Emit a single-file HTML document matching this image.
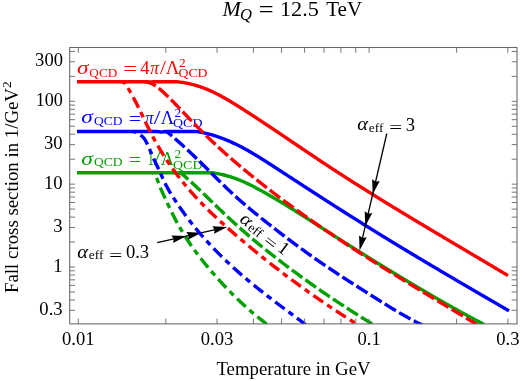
<!DOCTYPE html><html><head><meta charset="utf-8"><title>plot</title><style>html,body{margin:0;padding:0;background:#fff;}svg{display:block;will-change:transform}text{font-family:"Liberation Serif",serif;}</style></head><body>
<svg width="523" height="381" viewBox="0 0 523 381">
<rect width="523" height="381" fill="#fff"/>
<defs><clipPath id="c"><rect x="69.70" y="47.50" width="447.30" height="276.40"/></clipPath></defs>
<g clip-path="url(#c)">
<path d="M77.00 172.70 L78.00 172.70 L79.00 172.70 L80.00 172.70 L81.00 172.70 L82.00 172.70 L83.00 172.70 L84.00 172.70 L85.00 172.70 L86.00 172.70 L87.00 172.70 L88.00 172.70 L89.00 172.70 L90.00 172.70 L91.00 172.70 L92.00 172.70 L93.00 172.70 L94.00 172.70 L95.00 172.70 L96.00 172.70 L97.00 172.70 L98.00 172.70 L99.00 172.70 L100.00 172.70 L101.00 172.70 L102.00 172.70 L103.00 172.70 L104.00 172.70 L105.00 172.70 L106.00 172.70 L107.00 172.70 L108.00 172.70 L109.00 172.70 L110.00 172.70 L111.00 172.70 L112.00 172.70 L113.00 172.70 L114.00 172.70 L115.00 172.70 L116.00 172.70 L117.00 172.70 L118.00 172.70 L119.00 172.70 L120.00 172.70 L121.00 172.70 L122.00 172.70 L123.00 172.70 L124.00 172.70 L125.00 172.70 L126.00 172.70 L127.00 172.70 L128.00 172.70 L129.00 172.70 L130.00 172.70 L131.00 172.70 L132.00 172.70 L133.00 172.70 L134.00 172.70 L135.00 172.70 L136.00 172.70 L137.00 172.70 L138.00 172.70 L139.00 172.70 L140.00 172.70 L141.00 172.70 L142.00 172.70 L143.00 172.70 L144.00 172.70 L145.00 172.70 L146.00 172.70 L147.00 172.70 L148.00 172.70 L149.00 172.70 L150.00 172.70 L151.00 172.70 L152.00 172.70 L153.00 172.70 L154.00 172.70 L155.00 172.70 L156.00 172.70 L157.00 172.70 L158.00 172.70 L159.00 172.70 L160.00 172.70 L161.00 172.70 L162.00 172.70 L163.00 172.70 L164.00 172.70 L165.00 172.70 L166.00 172.70 L167.00 172.70 L168.00 172.70 L169.00 172.70 L170.00 172.70 L171.00 172.70 L172.00 172.72 L173.00 172.78 L174.00 172.88 L175.00 172.99 L176.00 173.03 L177.00 173.00 L178.00 172.91 L179.00 172.82 L180.00 172.76 L181.00 172.72 L182.00 172.71 L183.00 172.70 L184.00 172.70 L185.00 172.70 L186.00 172.70 L187.00 172.70 L188.00 172.70 L189.00 172.70 L190.00 172.70 L191.00 172.70 L192.00 172.70 L193.00 172.70 L194.00 172.70 L195.00 172.70 L196.00 172.70 L197.00 172.70 L198.00 172.70 L199.00 172.70 L200.00 172.70 L201.00 172.70 L202.00 172.70 L203.00 172.70 L204.00 172.70 L205.00 172.70 L206.00 172.70 L207.00 172.70 L208.00 172.70 L209.00 172.70 L210.00 172.71 L211.00 172.74 L212.00 172.80 L213.00 172.90 L214.00 173.03 L215.00 173.17 L216.00 173.33 L217.00 173.50 L218.00 173.69 L219.00 173.88 L220.00 174.08 L221.00 174.29 L222.00 174.51 L223.00 174.74 L224.00 174.98 L225.00 175.23 L226.00 175.49 L227.00 175.77 L228.00 176.05 L229.00 176.35 L230.00 176.65 L231.00 176.97 L232.00 177.30 L233.00 177.63 L234.00 177.98 L235.00 178.34 L236.00 178.71 L237.00 179.09 L238.00 179.48 L239.00 179.88 L240.00 180.29 L241.00 180.70 L242.00 181.13 L243.00 181.56 L244.00 182.01 L245.00 182.46 L246.00 182.92 L247.00 183.38 L248.00 183.85 L249.00 184.33 L250.00 184.82 L251.00 185.32 L252.00 185.82 L253.00 186.32 L254.00 186.84 L255.00 187.35 L256.00 187.88 L257.00 188.41 L258.00 188.94 L259.00 189.48 L260.00 190.02 L261.00 190.57 L262.00 191.13 L263.00 191.68 L264.00 192.24 L265.00 192.81 L266.00 193.37 L267.00 193.94 L268.00 194.52 L269.00 195.09 L270.00 195.67 L271.00 196.25 L272.00 196.83 L273.00 197.42 L274.00 198.01 L275.00 198.60 L276.00 199.19 L277.00 199.79 L278.00 200.38 L279.00 200.98 L280.00 201.58 L281.00 202.19 L282.00 202.79 L283.00 203.40 L284.00 204.01 L285.00 204.62 L286.00 205.23 L287.00 205.84 L288.00 206.46 L289.00 207.08 L290.00 207.69 L291.00 208.31 L292.00 208.94 L293.00 209.56 L294.00 210.18 L295.00 210.81 L296.00 211.44 L297.00 212.07 L298.00 212.70 L299.00 213.33 L300.00 213.96 L301.00 214.59 L302.00 215.22 L303.00 215.86 L304.00 216.49 L305.00 217.13 L306.00 217.77 L307.00 218.40 L308.00 219.04 L309.00 219.68 L310.00 220.32 L311.00 220.96 L312.00 221.60 L313.00 222.24 L314.00 222.88 L315.00 223.53 L316.00 224.17 L317.00 224.81 L318.00 225.45 L319.00 226.10 L320.00 226.74 L321.00 227.38 L322.00 228.02 L323.00 228.67 L324.00 229.31 L325.00 229.95 L326.00 230.59 L327.00 231.24 L328.00 231.88 L329.00 232.52 L330.00 233.16 L331.00 233.80 L332.00 234.44 L333.00 235.08 L334.00 235.72 L335.00 236.36 L336.00 237.00 L337.00 237.63 L338.00 238.27 L339.00 238.91 L340.00 239.54 L341.00 240.18 L342.00 240.81 L343.00 241.45 L344.00 242.08 L345.00 242.72 L346.00 243.35 L347.00 243.98 L348.00 244.61 L349.00 245.25 L350.00 245.88 L351.00 246.51 L352.00 247.14 L353.00 247.77 L354.00 248.40 L355.00 249.02 L356.00 249.65 L357.00 250.28 L358.00 250.91 L359.00 251.53 L360.00 252.16 L361.00 252.78 L362.00 253.41 L363.00 254.03 L364.00 254.66 L365.00 255.28 L366.00 255.90 L367.00 256.52 L368.00 257.15 L369.00 257.77 L370.00 258.39 L371.00 259.01 L372.00 259.63 L373.00 260.24 L374.00 260.86 L375.00 261.48 L376.00 262.10 L377.00 262.71 L378.00 263.33 L379.00 263.94 L380.00 264.56 L381.00 265.17 L382.00 265.79 L383.00 266.40 L384.00 267.01 L385.00 267.62 L386.00 268.23 L387.00 268.84 L388.00 269.45 L389.00 270.06 L390.00 270.67 L391.00 271.28 L392.00 271.89 L393.00 272.50 L394.00 273.10 L395.00 273.71 L396.00 274.31 L397.00 274.92 L398.00 275.52 L399.00 276.12 L400.00 276.73 L401.00 277.33 L402.00 277.93 L403.00 278.53 L404.00 279.13 L405.00 279.73 L406.00 280.33 L407.00 280.93 L408.00 281.53 L409.00 282.12 L410.00 282.72 L411.00 283.31 L412.00 283.91 L413.00 284.50 L414.00 285.10 L415.00 285.69 L416.00 286.28 L417.00 286.87 L418.00 287.47 L419.00 288.06 L420.00 288.64 L421.00 289.23 L422.00 289.82 L423.00 290.41 L424.00 290.99 L425.00 291.58 L426.00 292.16 L427.00 292.75 L428.00 293.33 L429.00 293.91 L430.00 294.50 L431.00 295.08 L432.00 295.66 L433.00 296.24 L434.00 296.81 L435.00 297.39 L436.00 297.97 L437.00 298.54 L438.00 299.12 L439.00 299.69 L440.00 300.26 L441.00 300.84 L442.00 301.41 L443.00 301.98 L444.00 302.55 L445.00 303.11 L446.00 303.68 L447.00 304.25 L448.00 304.81 L449.00 305.38 L450.00 305.94 L451.00 306.50 L452.00 307.06 L453.00 307.62 L454.00 308.18 L455.00 308.74 L456.00 309.30 L457.00 309.85 L458.00 310.41 L459.00 310.96 L460.00 311.51 L461.00 312.07 L462.00 312.62 L463.00 313.17 L464.00 313.71 L465.00 314.26 L466.00 314.81 L467.00 315.35 L468.00 315.90 L469.00 316.44 L470.00 316.98 L471.00 317.52 L472.00 318.06 L473.00 318.60 L474.00 319.13 L475.00 319.67 L476.00 320.20 L477.00 320.74 L478.00 321.27 L479.00 321.80 L480.00 322.33 L481.00 322.86 L482.00 323.38 L483.00 323.91 L484.00 324.43" fill="none" stroke="#00a000" stroke-width="3.40" stroke-linejoin="round"/>
<path d="M178.00 172.72 L179.00 172.79 L180.00 172.98 L181.00 173.37 L182.00 173.99 L183.00 174.78 L184.00 175.64 L185.00 176.53 L186.00 177.43 L187.00 178.33 L188.00 179.23 L189.00 180.13 L190.00 181.04 L191.00 181.94 L192.00 182.86 L193.00 183.77 L194.00 184.69 L195.00 185.61 L196.00 186.54 L197.00 187.47 L198.00 188.40 L199.00 189.35 L200.00 190.29 L201.00 191.24 L202.00 192.20 L203.00 193.16 L204.00 194.12 L205.00 195.09 L206.00 196.06 L207.00 197.04 L208.00 198.01 L209.00 198.98 L210.00 199.96 L211.00 200.93 L212.00 201.91 L213.00 202.88 L214.00 203.85 L215.00 204.82 L216.00 205.79 L217.00 206.75 L218.00 207.71 L219.00 208.67 L220.00 209.63 L221.00 210.59 L222.00 211.54 L223.00 212.49 L224.00 213.44 L225.00 214.38 L226.00 215.32 L227.00 216.26 L228.00 217.20 L229.00 218.13 L230.00 219.06 L231.00 219.98 L232.00 220.90 L233.00 221.82 L234.00 222.74 L235.00 223.65 L236.00 224.55 L237.00 225.45 L238.00 226.35 L239.00 227.24 L240.00 228.13 L241.00 229.02 L242.00 229.90 L243.00 230.78 L244.00 231.65 L245.00 232.52 L246.00 233.39 L247.00 234.25 L248.00 235.11 L249.00 235.96 L250.00 236.81 L251.00 237.66 L252.00 238.51 L253.00 239.35 L254.00 240.19 L255.00 241.02 L256.00 241.85 L257.00 242.68 L258.00 243.50 L259.00 244.33 L260.00 245.14 L261.00 245.96 L262.00 246.77 L263.00 247.58 L264.00 248.39 L265.00 249.19 L266.00 250.00 L267.00 250.79 L268.00 251.59 L269.00 252.38 L270.00 253.17 L271.00 253.96 L272.00 254.75 L273.00 255.53 L274.00 256.31 L275.00 257.09 L276.00 257.87 L277.00 258.64 L278.00 259.42 L279.00 260.19 L280.00 260.96 L281.00 261.72 L282.00 262.49 L283.00 263.25 L284.00 264.01 L285.00 264.77 L286.00 265.52 L287.00 266.28 L288.00 267.03 L289.00 267.78 L290.00 268.53 L291.00 269.28 L292.00 270.02 L293.00 270.76 L294.00 271.50 L295.00 272.24 L296.00 272.98 L297.00 273.71 L298.00 274.45 L299.00 275.18 L300.00 275.91 L301.00 276.63 L302.00 277.36 L303.00 278.08 L304.00 278.80 L305.00 279.52 L306.00 280.24 L307.00 280.96 L308.00 281.67 L309.00 282.38 L310.00 283.09 L311.00 283.80 L312.00 284.51 L313.00 285.21 L314.00 285.91 L315.00 286.62 L316.00 287.32 L317.00 288.01 L318.00 288.71 L319.00 289.40 L320.00 290.10 L321.00 290.79 L322.00 291.48 L323.00 292.16 L324.00 292.85 L325.00 293.53 L326.00 294.21 L327.00 294.89 L328.00 295.57 L329.00 296.25 L330.00 296.93 L331.00 297.60 L332.00 298.27 L333.00 298.94 L334.00 299.61 L335.00 300.28 L336.00 300.94 L337.00 301.61 L338.00 302.27 L339.00 302.93 L340.00 303.59 L341.00 304.24 L342.00 304.90 L343.00 305.55 L344.00 306.21 L345.00 306.86 L346.00 307.51 L347.00 308.15 L348.00 308.80 L349.00 309.44 L350.00 310.09 L351.00 310.73 L352.00 311.37 L353.00 312.01 L354.00 312.65 L355.00 313.28 L356.00 313.91 L357.00 314.55 L358.00 315.18 L359.00 315.81 L360.00 316.44 L361.00 317.06 L362.00 317.69 L363.00 318.31 L364.00 318.93 L365.00 319.56 L366.00 320.18 L367.00 320.79 L368.00 321.41 L369.00 322.03 L370.00 322.64 L371.00 323.25 L372.00 323.86 L373.00 324.47 L374.00 325.08" fill="none" stroke="#00a000" stroke-width="3.40" stroke-linejoin="round" stroke-dasharray="13.0 3.75" stroke-dashoffset="0.49"/>
<path d="M152.00 172.74 L153.00 172.91 L154.00 173.43 L155.00 174.56 L156.00 176.44 L157.00 178.87 L158.00 181.57 L159.00 184.27 L160.00 186.85 L161.00 189.27 L162.00 191.55 L163.00 193.74 L164.00 195.87 L165.00 198.00 L166.00 200.15 L167.00 202.31 L168.00 204.48 L169.00 206.63 L170.00 208.75 L171.00 210.83 L172.00 212.87 L173.00 214.86 L174.00 216.82 L175.00 218.74 L176.00 220.63 L177.00 222.48 L178.00 224.29 L179.00 226.07 L180.00 227.82 L181.00 229.54 L182.00 231.22 L183.00 232.88 L184.00 234.51 L185.00 236.12 L186.00 237.70 L187.00 239.25 L188.00 240.77 L189.00 242.28 L190.00 243.76 L191.00 245.22 L192.00 246.65 L193.00 248.07 L194.00 249.46 L195.00 250.84 L196.00 252.20 L197.00 253.54 L198.00 254.86 L199.00 256.17 L200.00 257.46 L201.00 258.74 L202.00 260.00 L203.00 261.25 L204.00 262.49 L205.00 263.72 L206.00 264.94 L207.00 266.15 L208.00 267.34 L209.00 268.54 L210.00 269.72 L211.00 270.89 L212.00 272.06 L213.00 273.21 L214.00 274.36 L215.00 275.50 L216.00 276.64 L217.00 277.76 L218.00 278.88 L219.00 279.98 L220.00 281.09 L221.00 282.18 L222.00 283.26 L223.00 284.34 L224.00 285.41 L225.00 286.47 L226.00 287.52 L227.00 288.57 L228.00 289.60 L229.00 290.63 L230.00 291.66 L231.00 292.67 L232.00 293.68 L233.00 294.68 L234.00 295.67 L235.00 296.65 L236.00 297.63 L237.00 298.60 L238.00 299.56 L239.00 300.51 L240.00 301.46 L241.00 302.39 L242.00 303.32 L243.00 304.25 L244.00 305.16 L245.00 306.07 L246.00 306.98 L247.00 307.87 L248.00 308.76 L249.00 309.64 L250.00 310.51 L251.00 311.37 L252.00 312.23 L253.00 313.08 L254.00 313.93 L255.00 314.76 L256.00 315.59 L257.00 316.42 L258.00 317.23 L259.00 318.04 L260.00 318.84 L261.00 319.64 L262.00 320.42 L263.00 321.20 L264.00 321.98 L265.00 322.75 L266.00 323.51 L267.00 324.27" fill="none" stroke="#00a000" stroke-width="3.40" stroke-linejoin="round" stroke-dasharray="5.6 4.9 11.8 4.9" stroke-dashoffset="19.86"/>
<text transform="translate(81.20,164.90) scale(1.2596,1.0000)" font-size="18.60" fill="#00a000" font-style="italic">σ</text><text transform="translate(94.05,166.20) scale(1.0147,1.0000)" font-size="13.30" fill="#00a000">QCD</text><text transform="translate(128.70,166.20) scale(1.1900,1.0000)" font-size="18.60" fill="#00a000">=</text><text transform="translate(147.73,165.40) scale(0.6567,1.0000)" font-size="18.60" fill="#00a000">1</text><text transform="translate(153.70,165.40) scale(1.2965,1.0000)" font-size="18.60" fill="#00a000">/</text><text transform="translate(160.82,165.40) scale(0.9913,1.0000)" font-size="18.60" fill="#00a000">Λ</text><text transform="translate(174.42,158.40) scale(1.0000,1.0000)" font-size="13.30" fill="#00a000">2</text><text transform="translate(173.03,168.70) scale(1.0517,1.0000)" font-size="13.30" fill="#00a000">QCD</text>
<path d="M157.15 242.60L224.37 227.56" stroke="#000" stroke-width="1.3" fill="none"/><path d="M186.40 236.05L173.10 243.03L173.71 238.89L171.40 235.41Z" fill="#000"/><path d="M201.30 232.72L188.00 239.69L188.61 235.56L186.30 232.08Z" fill="#000"/><path d="M227.30 226.90L214.00 233.87L214.61 229.74L212.30 226.26Z" fill="#000"/>
<path d="M77.00 131.50 L78.00 131.50 L79.00 131.50 L80.00 131.50 L81.00 131.50 L82.00 131.50 L83.00 131.50 L84.00 131.50 L85.00 131.50 L86.00 131.50 L87.00 131.50 L88.00 131.50 L89.00 131.50 L90.00 131.50 L91.00 131.50 L92.00 131.50 L93.00 131.50 L94.00 131.50 L95.00 131.50 L96.00 131.50 L97.00 131.50 L98.00 131.50 L99.00 131.50 L100.00 131.50 L101.00 131.50 L102.00 131.50 L103.00 131.50 L104.00 131.50 L105.00 131.50 L106.00 131.50 L107.00 131.50 L108.00 131.50 L109.00 131.50 L110.00 131.50 L111.00 131.50 L112.00 131.50 L113.00 131.50 L114.00 131.50 L115.00 131.50 L116.00 131.50 L117.00 131.50 L118.00 131.50 L119.00 131.50 L120.00 131.50 L121.00 131.50 L122.00 131.50 L123.00 131.50 L124.00 131.50 L125.00 131.50 L126.00 131.50 L127.00 131.50 L128.00 131.50 L129.00 131.50 L130.00 131.50 L131.00 131.50 L132.00 131.50 L133.00 131.50 L134.00 131.50 L135.00 131.50 L136.00 131.50 L137.00 131.50 L138.00 131.50 L139.00 131.50 L140.00 131.50 L141.00 131.50 L142.00 131.50 L143.00 131.50 L144.00 131.50 L145.00 131.50 L146.00 131.50 L147.00 131.50 L148.00 131.50 L149.00 131.50 L150.00 131.50 L151.00 131.50 L152.00 131.50 L153.00 131.50 L154.00 131.50 L155.00 131.50 L156.00 131.51 L157.00 131.54 L158.00 131.63 L159.00 131.78 L160.00 131.94 L161.00 132.01 L162.00 131.95 L163.00 131.81 L164.00 131.68 L165.00 131.58 L166.00 131.53 L167.00 131.51 L168.00 131.50 L169.00 131.50 L170.00 131.50 L171.00 131.50 L172.00 131.50 L173.00 131.50 L174.00 131.50 L175.00 131.50 L176.00 131.50 L177.00 131.50 L178.00 131.50 L179.00 131.50 L180.00 131.50 L181.00 131.50 L182.00 131.50 L183.00 131.50 L184.00 131.50 L185.00 131.50 L186.00 131.50 L187.00 131.50 L188.00 131.50 L189.00 131.50 L190.00 131.50 L191.00 131.50 L192.00 131.50 L193.00 131.50 L194.00 131.50 L195.00 131.52 L196.00 131.56 L197.00 131.63 L198.00 131.76 L199.00 131.91 L200.00 132.09 L201.00 132.28 L202.00 132.47 L203.00 132.68 L204.00 132.90 L205.00 133.12 L206.00 133.36 L207.00 133.60 L208.00 133.85 L209.00 134.11 L210.00 134.38 L211.00 134.66 L212.00 134.95 L213.00 135.24 L214.00 135.55 L215.00 135.86 L216.00 136.18 L217.00 136.51 L218.00 136.85 L219.00 137.19 L220.00 137.54 L221.00 137.91 L222.00 138.28 L223.00 138.65 L224.00 139.04 L225.00 139.43 L226.00 139.84 L227.00 140.25 L228.00 140.67 L229.00 141.09 L230.00 141.52 L231.00 141.97 L232.00 142.42 L233.00 142.87 L234.00 143.34 L235.00 143.81 L236.00 144.29 L237.00 144.78 L238.00 145.27 L239.00 145.77 L240.00 146.28 L241.00 146.80 L242.00 147.32 L243.00 147.85 L244.00 148.39 L245.00 148.93 L246.00 149.48 L247.00 150.04 L248.00 150.60 L249.00 151.17 L250.00 151.75 L251.00 152.33 L252.00 152.91 L253.00 153.50 L254.00 154.10 L255.00 154.69 L256.00 155.30 L257.00 155.91 L258.00 156.52 L259.00 157.13 L260.00 157.75 L261.00 158.38 L262.00 159.00 L263.00 159.63 L264.00 160.26 L265.00 160.90 L266.00 161.54 L267.00 162.18 L268.00 162.82 L269.00 163.46 L270.00 164.11 L271.00 164.75 L272.00 165.40 L273.00 166.05 L274.00 166.70 L275.00 167.35 L276.00 168.00 L277.00 168.65 L278.00 169.31 L279.00 169.96 L280.00 170.61 L281.00 171.26 L282.00 171.91 L283.00 172.56 L284.00 173.21 L285.00 173.87 L286.00 174.52 L287.00 175.17 L288.00 175.82 L289.00 176.47 L290.00 177.12 L291.00 177.77 L292.00 178.42 L293.00 179.08 L294.00 179.73 L295.00 180.38 L296.00 181.03 L297.00 181.68 L298.00 182.33 L299.00 182.98 L300.00 183.63 L301.00 184.28 L302.00 184.93 L303.00 185.57 L304.00 186.22 L305.00 186.87 L306.00 187.52 L307.00 188.17 L308.00 188.82 L309.00 189.47 L310.00 190.11 L311.00 190.76 L312.00 191.41 L313.00 192.05 L314.00 192.70 L315.00 193.35 L316.00 193.99 L317.00 194.64 L318.00 195.29 L319.00 195.93 L320.00 196.58 L321.00 197.22 L322.00 197.87 L323.00 198.51 L324.00 199.15 L325.00 199.80 L326.00 200.44 L327.00 201.08 L328.00 201.73 L329.00 202.37 L330.00 203.01 L331.00 203.65 L332.00 204.29 L333.00 204.93 L334.00 205.57 L335.00 206.21 L336.00 206.85 L337.00 207.49 L338.00 208.13 L339.00 208.77 L340.00 209.40 L341.00 210.04 L342.00 210.68 L343.00 211.31 L344.00 211.95 L345.00 212.59 L346.00 213.22 L347.00 213.86 L348.00 214.49 L349.00 215.12 L350.00 215.76 L351.00 216.39 L352.00 217.02 L353.00 217.65 L354.00 218.28 L355.00 218.91 L356.00 219.54 L357.00 220.17 L358.00 220.80 L359.00 221.43 L360.00 222.06 L361.00 222.68 L362.00 223.31 L363.00 223.94 L364.00 224.56 L365.00 225.19 L366.00 225.81 L367.00 226.43 L368.00 227.06 L369.00 227.68 L370.00 228.30 L371.00 228.92 L372.00 229.54 L373.00 230.16 L374.00 230.78 L375.00 231.40 L376.00 232.02 L377.00 232.64 L378.00 233.25 L379.00 233.87 L380.00 234.49 L381.00 235.10 L382.00 235.72 L383.00 236.33 L384.00 236.94 L385.00 237.56 L386.00 238.17 L387.00 238.78 L388.00 239.39 L389.00 240.00 L390.00 240.62 L391.00 241.23 L392.00 241.84 L393.00 242.44 L394.00 243.05 L395.00 243.66 L396.00 244.27 L397.00 244.88 L398.00 245.48 L399.00 246.09 L400.00 246.69 L401.00 247.30 L402.00 247.91 L403.00 248.51 L404.00 249.11 L405.00 249.72 L406.00 250.32 L407.00 250.92 L408.00 251.52 L409.00 252.13 L410.00 252.73 L411.00 253.33 L412.00 253.93 L413.00 254.53 L414.00 255.13 L415.00 255.73 L416.00 256.33 L417.00 256.93 L418.00 257.52 L419.00 258.12 L420.00 258.72 L421.00 259.32 L422.00 259.91 L423.00 260.51 L424.00 261.10 L425.00 261.70 L426.00 262.30 L427.00 262.89 L428.00 263.48 L429.00 264.08 L430.00 264.67 L431.00 265.27 L432.00 265.86 L433.00 266.45 L434.00 267.04 L435.00 267.64 L436.00 268.23 L437.00 268.82 L438.00 269.41 L439.00 270.00 L440.00 270.59 L441.00 271.18 L442.00 271.77 L443.00 272.36 L444.00 272.95 L445.00 273.54 L446.00 274.13 L447.00 274.72 L448.00 275.31 L449.00 275.89 L450.00 276.48 L451.00 277.07 L452.00 277.66 L453.00 278.24 L454.00 278.83 L455.00 279.42 L456.00 280.00 L457.00 280.59 L458.00 281.17 L459.00 281.76 L460.00 282.35 L461.00 282.93 L462.00 283.52 L463.00 284.10 L464.00 284.68 L465.00 285.27 L466.00 285.85 L467.00 286.44 L468.00 287.02 L469.00 287.60 L470.00 288.19 L471.00 288.77 L472.00 289.35 L473.00 289.94 L474.00 290.52 L475.00 291.10 L476.00 291.69 L477.00 292.27 L478.00 292.85 L479.00 293.43 L480.00 294.01 L481.00 294.60 L482.00 295.18 L483.00 295.76 L484.00 296.34 L485.00 296.92 L486.00 297.50 L487.00 298.08 L488.00 298.66 L489.00 299.25 L490.00 299.83 L491.00 300.41 L492.00 300.99 L493.00 301.57 L494.00 302.15 L495.00 302.73 L496.00 303.31 L497.00 303.89 L498.00 304.47 L499.00 305.05 L500.00 305.63 L501.00 306.21 L502.00 306.79 L503.00 307.37 L504.00 307.95 L505.00 308.53 L506.00 309.11 L507.00 309.69 L508.00 310.27 L509.00 310.85" fill="none" stroke="#0000ff" stroke-width="3.40" stroke-linejoin="round"/>
<path d="M164.00 131.51 L165.00 131.56 L166.00 131.72 L167.00 132.07 L168.00 132.65 L169.00 133.40 L170.00 134.24 L171.00 135.11 L172.00 135.98 L173.00 136.86 L174.00 137.74 L175.00 138.61 L176.00 139.49 L177.00 140.37 L178.00 141.25 L179.00 142.14 L180.00 143.04 L181.00 143.94 L182.00 144.84 L183.00 145.75 L184.00 146.66 L185.00 147.58 L186.00 148.50 L187.00 149.43 L188.00 150.36 L189.00 151.29 L190.00 152.23 L191.00 153.18 L192.00 154.12 L193.00 155.07 L194.00 156.03 L195.00 156.99 L196.00 157.95 L197.00 158.91 L198.00 159.88 L199.00 160.85 L200.00 161.83 L201.00 162.81 L202.00 163.79 L203.00 164.77 L204.00 165.76 L205.00 166.75 L206.00 167.74 L207.00 168.73 L208.00 169.73 L209.00 170.72 L210.00 171.72 L211.00 172.72 L212.00 173.71 L213.00 174.71 L214.00 175.71 L215.00 176.70 L216.00 177.70 L217.00 178.69 L218.00 179.68 L219.00 180.67 L220.00 181.66 L221.00 182.64 L222.00 183.62 L223.00 184.60 L224.00 185.57 L225.00 186.54 L226.00 187.51 L227.00 188.47 L228.00 189.42 L229.00 190.37 L230.00 191.32 L231.00 192.26 L232.00 193.19 L233.00 194.11 L234.00 195.03 L235.00 195.94 L236.00 196.85 L237.00 197.75 L238.00 198.65 L239.00 199.53 L240.00 200.42 L241.00 201.29 L242.00 202.17 L243.00 203.03 L244.00 203.90 L245.00 204.75 L246.00 205.60 L247.00 206.45 L248.00 207.30 L249.00 208.14 L250.00 208.97 L251.00 209.80 L252.00 210.63 L253.00 211.46 L254.00 212.28 L255.00 213.09 L256.00 213.91 L257.00 214.72 L258.00 215.53 L259.00 216.34 L260.00 217.14 L261.00 217.94 L262.00 218.74 L263.00 219.54 L264.00 220.33 L265.00 221.13 L266.00 221.92 L267.00 222.71 L268.00 223.50 L269.00 224.28 L270.00 225.06 L271.00 225.85 L272.00 226.63 L273.00 227.40 L274.00 228.18 L275.00 228.96 L276.00 229.73 L277.00 230.50 L278.00 231.27 L279.00 232.04 L280.00 232.80 L281.00 233.57 L282.00 234.33 L283.00 235.09 L284.00 235.85 L285.00 236.61 L286.00 237.36 L287.00 238.12 L288.00 238.87 L289.00 239.63 L290.00 240.38 L291.00 241.12 L292.00 241.87 L293.00 242.62 L294.00 243.36 L295.00 244.10 L296.00 244.84 L297.00 245.58 L298.00 246.32 L299.00 247.06 L300.00 247.79 L301.00 248.52 L302.00 249.25 L303.00 249.98 L304.00 250.70 L305.00 251.43 L306.00 252.15 L307.00 252.87 L308.00 253.58 L309.00 254.30 L310.00 255.01 L311.00 255.72 L312.00 256.43 L313.00 257.13 L314.00 257.84 L315.00 258.54 L316.00 259.24 L317.00 259.93 L318.00 260.63 L319.00 261.32 L320.00 262.01 L321.00 262.70 L322.00 263.38 L323.00 264.06 L324.00 264.74 L325.00 265.42 L326.00 266.10 L327.00 266.77 L328.00 267.44 L329.00 268.11 L330.00 268.78 L331.00 269.45 L332.00 270.12 L333.00 270.78 L334.00 271.44 L335.00 272.10 L336.00 272.76 L337.00 273.42 L338.00 274.07 L339.00 274.73 L340.00 275.38 L341.00 276.03 L342.00 276.68 L343.00 277.33 L344.00 277.98 L345.00 278.63 L346.00 279.28 L347.00 279.92 L348.00 280.57 L349.00 281.21 L350.00 281.85 L351.00 282.49 L352.00 283.13 L353.00 283.78 L354.00 284.42 L355.00 285.05 L356.00 285.69 L357.00 286.33 L358.00 286.97 L359.00 287.61 L360.00 288.24 L361.00 288.88 L362.00 289.52 L363.00 290.15 L364.00 290.79 L365.00 291.43 L366.00 292.06 L367.00 292.70 L368.00 293.33 L369.00 293.97 L370.00 294.60 L371.00 295.24 L372.00 295.88 L373.00 296.51 L374.00 297.14 L375.00 297.78 L376.00 298.41 L377.00 299.04 L378.00 299.67 L379.00 300.30 L380.00 300.93 L381.00 301.56 L382.00 302.19 L383.00 302.81 L384.00 303.43 L385.00 304.05 L386.00 304.67 L387.00 305.29 L388.00 305.91 L389.00 306.52 L390.00 307.13 L391.00 307.74 L392.00 308.35 L393.00 308.95 L394.00 309.55 L395.00 310.15 L396.00 310.74 L397.00 311.34 L398.00 311.93 L399.00 312.51 L400.00 313.10 L401.00 313.68 L402.00 314.25 L403.00 314.82 L404.00 315.39 L405.00 315.96 L406.00 316.52 L407.00 317.08 L408.00 317.63 L409.00 318.18 L410.00 318.72 L411.00 319.26 L412.00 319.80 L413.00 320.33 L414.00 320.85 L415.00 321.37 L416.00 321.89 L417.00 322.40 L418.00 322.91 L419.00 323.41 L420.00 323.90 L421.00 324.39 L422.00 324.88 L423.00 325.36" fill="none" stroke="#0000ff" stroke-width="3.40" stroke-linejoin="round" stroke-dasharray="13.0 3.75" stroke-dashoffset="3.42"/>
<path d="M133.00 131.53 L134.00 131.60 L135.00 131.80 L136.00 132.17 L137.00 132.72 L138.00 133.37 L139.00 134.07 L140.00 134.78 L141.00 135.49 L142.00 136.25 L143.00 137.17 L144.00 138.32 L145.00 139.75 L146.00 141.46 L147.00 143.39 L148.00 145.51 L149.00 147.77 L150.00 150.12 L151.00 152.51 L152.00 154.90 L153.00 157.23 L154.00 159.48 L155.00 161.63 L156.00 163.70 L157.00 165.73 L158.00 167.78 L159.00 169.89 L160.00 172.09 L161.00 174.34 L162.00 176.62 L163.00 178.87 L164.00 181.05 L165.00 183.15 L166.00 185.14 L167.00 187.04 L168.00 188.85 L169.00 190.58 L170.00 192.26 L171.00 193.90 L172.00 195.50 L173.00 197.08 L174.00 198.64 L175.00 200.18 L176.00 201.71 L177.00 203.21 L178.00 204.70 L179.00 206.16 L180.00 207.61 L181.00 209.05 L182.00 210.46 L183.00 211.86 L184.00 213.25 L185.00 214.62 L186.00 215.97 L187.00 217.31 L188.00 218.63 L189.00 219.93 L190.00 221.23 L191.00 222.51 L192.00 223.77 L193.00 225.03 L194.00 226.27 L195.00 227.49 L196.00 228.71 L197.00 229.91 L198.00 231.10 L199.00 232.28 L200.00 233.45 L201.00 234.60 L202.00 235.75 L203.00 236.88 L204.00 238.01 L205.00 239.13 L206.00 240.24 L207.00 241.33 L208.00 242.42 L209.00 243.51 L210.00 244.58 L211.00 245.65 L212.00 246.70 L213.00 247.75 L214.00 248.79 L215.00 249.83 L216.00 250.86 L217.00 251.88 L218.00 252.89 L219.00 253.89 L220.00 254.89 L221.00 255.88 L222.00 256.86 L223.00 257.84 L224.00 258.81 L225.00 259.78 L226.00 260.73 L227.00 261.68 L228.00 262.63 L229.00 263.57 L230.00 264.50 L231.00 265.43 L232.00 266.35 L233.00 267.26 L234.00 268.17 L235.00 269.07 L236.00 269.97 L237.00 270.86 L238.00 271.75 L239.00 272.63 L240.00 273.51 L241.00 274.38 L242.00 275.24 L243.00 276.11 L244.00 276.96 L245.00 277.82 L246.00 278.66 L247.00 279.51 L248.00 280.35 L249.00 281.18 L250.00 282.01 L251.00 282.84 L252.00 283.66 L253.00 284.48 L254.00 285.29 L255.00 286.11 L256.00 286.91 L257.00 287.72 L258.00 288.52 L259.00 289.32 L260.00 290.11 L261.00 290.90 L262.00 291.69 L263.00 292.48 L264.00 293.26 L265.00 294.04 L266.00 294.82 L267.00 295.59 L268.00 296.37 L269.00 297.14 L270.00 297.91 L271.00 298.67 L272.00 299.44 L273.00 300.20 L274.00 300.96 L275.00 301.72 L276.00 302.48 L277.00 303.24 L278.00 303.99 L279.00 304.75 L280.00 305.50 L281.00 306.25 L282.00 307.00 L283.00 307.75 L284.00 308.50 L285.00 309.25 L286.00 310.00 L287.00 310.74 L288.00 311.49 L289.00 312.24 L290.00 312.98 L291.00 313.73 L292.00 314.48 L293.00 315.22 L294.00 315.97 L295.00 316.72 L296.00 317.46 L297.00 318.21 L298.00 318.96 L299.00 319.71 L300.00 320.46 L301.00 321.21 L302.00 321.97 L303.00 322.72 L304.00 323.47 L305.00 324.23 L306.00 324.99" fill="none" stroke="#0000ff" stroke-width="3.40" stroke-linejoin="round" stroke-dasharray="5.6 4.9 11.8 4.9" stroke-dashoffset="2.02"/>
<text transform="translate(81.20,123.30) scale(1.2596,1.0000)" font-size="18.60" fill="#0000ff" font-style="italic">σ</text><text transform="translate(94.05,124.60) scale(1.0147,1.0000)" font-size="13.30" fill="#0000ff">QCD</text><text transform="translate(128.70,124.60) scale(1.1900,1.0000)" font-size="18.60" fill="#0000ff">=</text><text transform="translate(144.91,123.80) scale(0.9124,1.0000)" font-size="18.60" fill="#0000ff" font-style="italic">π</text><text transform="translate(153.70,123.80) scale(1.2965,1.0000)" font-size="18.60" fill="#0000ff">/</text><text transform="translate(160.82,123.80) scale(0.9913,1.0000)" font-size="18.60" fill="#0000ff">Λ</text><text transform="translate(174.42,116.80) scale(1.0000,1.0000)" font-size="13.30" fill="#0000ff">2</text><text transform="translate(173.03,127.10) scale(1.0517,1.0000)" font-size="13.30" fill="#0000ff">QCD</text>
<path d="M77.00 81.70 L78.00 81.70 L79.00 81.70 L80.00 81.70 L81.00 81.70 L82.00 81.70 L83.00 81.70 L84.00 81.70 L85.00 81.70 L86.00 81.70 L87.00 81.70 L88.00 81.70 L89.00 81.70 L90.00 81.70 L91.00 81.70 L92.00 81.70 L93.00 81.70 L94.00 81.70 L95.00 81.70 L96.00 81.70 L97.00 81.70 L98.00 81.70 L99.00 81.70 L100.00 81.70 L101.00 81.70 L102.00 81.70 L103.00 81.70 L104.00 81.70 L105.00 81.70 L106.00 81.70 L107.00 81.70 L108.00 81.70 L109.00 81.70 L110.00 81.70 L111.00 81.70 L112.00 81.70 L113.00 81.70 L114.00 81.70 L115.00 81.70 L116.00 81.70 L117.00 81.70 L118.00 81.70 L119.00 81.70 L120.00 81.70 L121.00 81.70 L122.00 81.70 L123.00 81.70 L124.00 81.70 L125.00 81.70 L126.00 81.70 L127.00 81.70 L128.00 81.70 L129.00 81.70 L130.00 81.70 L131.00 81.70 L132.00 81.70 L133.00 81.70 L134.00 81.70 L135.00 81.70 L136.00 81.70 L137.00 81.70 L138.00 81.70 L139.00 81.70 L140.00 81.70 L141.00 81.70 L142.00 81.70 L143.00 81.70 L144.00 81.70 L145.00 81.70 L146.00 81.70 L147.00 81.72 L148.00 81.76 L149.00 81.83 L150.00 81.90 L151.00 81.92 L152.00 81.88 L153.00 81.81 L154.00 81.76 L155.00 81.72 L156.00 81.71 L157.00 81.70 L158.00 81.70 L159.00 81.70 L160.00 81.70 L161.00 81.70 L162.00 81.70 L163.00 81.70 L164.00 81.70 L165.00 81.70 L166.00 81.70 L167.00 81.70 L168.00 81.70 L169.00 81.70 L170.00 81.70 L171.00 81.70 L172.00 81.70 L173.00 81.70 L174.00 81.70 L175.00 81.71 L176.00 81.73 L177.00 81.78 L178.00 81.86 L179.00 81.97 L180.00 82.09 L181.00 82.22 L182.00 82.37 L183.00 82.52 L184.00 82.69 L185.00 82.86 L186.00 83.05 L187.00 83.24 L188.00 83.45 L189.00 83.66 L190.00 83.89 L191.00 84.12 L192.00 84.37 L193.00 84.62 L194.00 84.89 L195.00 85.16 L196.00 85.45 L197.00 85.75 L198.00 86.06 L199.00 86.38 L200.00 86.71 L201.00 87.05 L202.00 87.41 L203.00 87.77 L204.00 88.15 L205.00 88.53 L206.00 88.93 L207.00 89.34 L208.00 89.76 L209.00 90.19 L210.00 90.63 L211.00 91.08 L212.00 91.54 L213.00 92.01 L214.00 92.49 L215.00 92.98 L216.00 93.48 L217.00 93.98 L218.00 94.50 L219.00 95.02 L220.00 95.55 L221.00 96.09 L222.00 96.63 L223.00 97.19 L224.00 97.74 L225.00 98.31 L226.00 98.88 L227.00 99.46 L228.00 100.04 L229.00 100.63 L230.00 101.22 L231.00 101.82 L232.00 102.42 L233.00 103.03 L234.00 103.64 L235.00 104.26 L236.00 104.87 L237.00 105.50 L238.00 106.12 L239.00 106.75 L240.00 107.38 L241.00 108.01 L242.00 108.65 L243.00 109.29 L244.00 109.92 L245.00 110.56 L246.00 111.21 L247.00 111.85 L248.00 112.49 L249.00 113.14 L250.00 113.79 L251.00 114.43 L252.00 115.08 L253.00 115.74 L254.00 116.39 L255.00 117.04 L256.00 117.70 L257.00 118.35 L258.00 119.01 L259.00 119.67 L260.00 120.33 L261.00 120.99 L262.00 121.65 L263.00 122.31 L264.00 122.97 L265.00 123.64 L266.00 124.30 L267.00 124.97 L268.00 125.63 L269.00 126.30 L270.00 126.97 L271.00 127.64 L272.00 128.31 L273.00 128.98 L274.00 129.65 L275.00 130.32 L276.00 130.99 L277.00 131.66 L278.00 132.34 L279.00 133.01 L280.00 133.68 L281.00 134.36 L282.00 135.03 L283.00 135.71 L284.00 136.38 L285.00 137.06 L286.00 137.73 L287.00 138.41 L288.00 139.08 L289.00 139.76 L290.00 140.44 L291.00 141.11 L292.00 141.79 L293.00 142.47 L294.00 143.14 L295.00 143.82 L296.00 144.49 L297.00 145.17 L298.00 145.85 L299.00 146.52 L300.00 147.20 L301.00 147.87 L302.00 148.55 L303.00 149.23 L304.00 149.90 L305.00 150.57 L306.00 151.25 L307.00 151.92 L308.00 152.60 L309.00 153.27 L310.00 153.94 L311.00 154.61 L312.00 155.28 L313.00 155.96 L314.00 156.63 L315.00 157.29 L316.00 157.96 L317.00 158.63 L318.00 159.30 L319.00 159.97 L320.00 160.63 L321.00 161.30 L322.00 161.96 L323.00 162.62 L324.00 163.29 L325.00 163.95 L326.00 164.61 L327.00 165.27 L328.00 165.92 L329.00 166.58 L330.00 167.24 L331.00 167.89 L332.00 168.55 L333.00 169.20 L334.00 169.85 L335.00 170.51 L336.00 171.16 L337.00 171.81 L338.00 172.46 L339.00 173.10 L340.00 173.75 L341.00 174.40 L342.00 175.04 L343.00 175.69 L344.00 176.33 L345.00 176.98 L346.00 177.62 L347.00 178.26 L348.00 178.90 L349.00 179.54 L350.00 180.18 L351.00 180.82 L352.00 181.45 L353.00 182.09 L354.00 182.72 L355.00 183.36 L356.00 183.99 L357.00 184.63 L358.00 185.26 L359.00 185.89 L360.00 186.52 L361.00 187.15 L362.00 187.78 L363.00 188.41 L364.00 189.04 L365.00 189.67 L366.00 190.29 L367.00 190.92 L368.00 191.54 L369.00 192.17 L370.00 192.79 L371.00 193.42 L372.00 194.04 L373.00 194.66 L374.00 195.28 L375.00 195.90 L376.00 196.52 L377.00 197.14 L378.00 197.76 L379.00 198.38 L380.00 199.00 L381.00 199.61 L382.00 200.23 L383.00 200.85 L384.00 201.46 L385.00 202.08 L386.00 202.69 L387.00 203.30 L388.00 203.92 L389.00 204.53 L390.00 205.14 L391.00 205.75 L392.00 206.36 L393.00 206.97 L394.00 207.58 L395.00 208.19 L396.00 208.80 L397.00 209.41 L398.00 210.02 L399.00 210.63 L400.00 211.23 L401.00 211.84 L402.00 212.45 L403.00 213.05 L404.00 213.66 L405.00 214.26 L406.00 214.87 L407.00 215.47 L408.00 216.07 L409.00 216.68 L410.00 217.28 L411.00 217.88 L412.00 218.48 L413.00 219.09 L414.00 219.69 L415.00 220.29 L416.00 220.89 L417.00 221.49 L418.00 222.09 L419.00 222.69 L420.00 223.29 L421.00 223.89 L422.00 224.48 L423.00 225.08 L424.00 225.68 L425.00 226.28 L426.00 226.88 L427.00 227.47 L428.00 228.07 L429.00 228.67 L430.00 229.26 L431.00 229.86 L432.00 230.46 L433.00 231.05 L434.00 231.65 L435.00 232.24 L436.00 232.84 L437.00 233.43 L438.00 234.03 L439.00 234.62 L440.00 235.22 L441.00 235.81 L442.00 236.40 L443.00 237.00 L444.00 237.59 L445.00 238.19 L446.00 238.78 L447.00 239.37 L448.00 239.97 L449.00 240.56 L450.00 241.15 L451.00 241.75 L452.00 242.34 L453.00 242.93 L454.00 243.52 L455.00 244.12 L456.00 244.71 L457.00 245.30 L458.00 245.89 L459.00 246.49 L460.00 247.08 L461.00 247.67 L462.00 248.26 L463.00 248.85 L464.00 249.45 L465.00 250.04 L466.00 250.63 L467.00 251.22 L468.00 251.82 L469.00 252.41 L470.00 253.00 L471.00 253.59 L472.00 254.19 L473.00 254.78 L474.00 255.37 L475.00 255.96 L476.00 256.56 L477.00 257.15 L478.00 257.74 L479.00 258.33 L480.00 258.93 L481.00 259.52 L482.00 260.11 L483.00 260.71 L484.00 261.30 L485.00 261.89 L486.00 262.49 L487.00 263.08 L488.00 263.68 L489.00 264.27 L490.00 264.87 L491.00 265.46 L492.00 266.06 L493.00 266.65 L494.00 267.25 L495.00 267.84 L496.00 268.44 L497.00 269.03 L498.00 269.63 L499.00 270.23 L500.00 270.82 L501.00 271.42 L502.00 272.02 L503.00 272.61 L504.00 273.21 L505.00 273.81 L506.00 274.41 L507.00 275.01 L508.00 275.61" fill="none" stroke="#ff0000" stroke-width="3.40" stroke-linejoin="round"/>
<path d="M142.00 81.74 L143.00 81.76 L144.00 81.78 L145.00 81.82 L146.00 81.90 L147.00 82.04 L148.00 82.26 L149.00 82.54 L150.00 82.90 L151.00 83.31 L152.00 83.79 L153.00 84.32 L154.00 84.90 L155.00 85.53 L156.00 86.20 L157.00 86.92 L158.00 87.67 L159.00 88.45 L160.00 89.27 L161.00 90.11 L162.00 90.99 L163.00 91.88 L164.00 92.80 L165.00 93.74 L166.00 94.70 L167.00 95.66 L168.00 96.64 L169.00 97.63 L170.00 98.63 L171.00 99.63 L172.00 100.64 L173.00 101.66 L174.00 102.68 L175.00 103.70 L176.00 104.73 L177.00 105.77 L178.00 106.81 L179.00 107.85 L180.00 108.89 L181.00 109.94 L182.00 110.98 L183.00 112.03 L184.00 113.08 L185.00 114.13 L186.00 115.18 L187.00 116.23 L188.00 117.27 L189.00 118.32 L190.00 119.36 L191.00 120.40 L192.00 121.44 L193.00 122.47 L194.00 123.50 L195.00 124.53 L196.00 125.55 L197.00 126.57 L198.00 127.58 L199.00 128.58 L200.00 129.58 L201.00 130.58 L202.00 131.57 L203.00 132.56 L204.00 133.54 L205.00 134.52 L206.00 135.49 L207.00 136.46 L208.00 137.42 L209.00 138.38 L210.00 139.34 L211.00 140.29 L212.00 141.23 L213.00 142.18 L214.00 143.11 L215.00 144.05 L216.00 144.98 L217.00 145.90 L218.00 146.82 L219.00 147.74 L220.00 148.65 L221.00 149.56 L222.00 150.47 L223.00 151.37 L224.00 152.27 L225.00 153.16 L226.00 154.05 L227.00 154.94 L228.00 155.82 L229.00 156.70 L230.00 157.58 L231.00 158.45 L232.00 159.32 L233.00 160.19 L234.00 161.05 L235.00 161.91 L236.00 162.76 L237.00 163.61 L238.00 164.46 L239.00 165.31 L240.00 166.15 L241.00 166.99 L242.00 167.83 L243.00 168.66 L244.00 169.49 L245.00 170.32 L246.00 171.15 L247.00 171.97 L248.00 172.79 L249.00 173.60 L250.00 174.42 L251.00 175.23 L252.00 176.04 L253.00 176.84 L254.00 177.65 L255.00 178.45 L256.00 179.25 L257.00 180.04 L258.00 180.84 L259.00 181.63 L260.00 182.42 L261.00 183.21 L262.00 183.99 L263.00 184.78 L264.00 185.56 L265.00 186.33 L266.00 187.11 L267.00 187.89 L268.00 188.66 L269.00 189.43 L270.00 190.20 L271.00 190.97 L272.00 191.73 L273.00 192.50 L274.00 193.26 L275.00 194.02 L276.00 194.78 L277.00 195.53 L278.00 196.29 L279.00 197.04 L280.00 197.79 L281.00 198.54 L282.00 199.29 L283.00 200.03 L284.00 200.77 L285.00 201.52 L286.00 202.26 L287.00 202.99 L288.00 203.73 L289.00 204.47 L290.00 205.20 L291.00 205.93 L292.00 206.66 L293.00 207.39 L294.00 208.12 L295.00 208.84 L296.00 209.56 L297.00 210.29 L298.00 211.01 L299.00 211.72 L300.00 212.44 L301.00 213.16 L302.00 213.87 L303.00 214.58 L304.00 215.29 L305.00 216.00 L306.00 216.71 L307.00 217.42 L308.00 218.12 L309.00 218.82 L310.00 219.52 L311.00 220.23 L312.00 220.92 L313.00 221.62 L314.00 222.32 L315.00 223.01 L316.00 223.70 L317.00 224.40 L318.00 225.09 L319.00 225.78 L320.00 226.46 L321.00 227.15 L322.00 227.83 L323.00 228.52 L324.00 229.20 L325.00 229.88 L326.00 230.56 L327.00 231.24 L328.00 231.91 L329.00 232.59 L330.00 233.26 L331.00 233.94 L332.00 234.61 L333.00 235.28 L334.00 235.95 L335.00 236.62 L336.00 237.29 L337.00 237.95 L338.00 238.62 L339.00 239.28 L340.00 239.94 L341.00 240.60 L342.00 241.26 L343.00 241.92 L344.00 242.58 L345.00 243.24 L346.00 243.89 L347.00 244.55 L348.00 245.20 L349.00 245.85 L350.00 246.51 L351.00 247.16 L352.00 247.81 L353.00 248.45 L354.00 249.10 L355.00 249.75 L356.00 250.39 L357.00 251.04 L358.00 251.68 L359.00 252.32 L360.00 252.97 L361.00 253.61 L362.00 254.25 L363.00 254.89 L364.00 255.52 L365.00 256.16 L366.00 256.80 L367.00 257.43 L368.00 258.07 L369.00 258.70 L370.00 259.34 L371.00 259.97 L372.00 260.60 L373.00 261.23 L374.00 261.86 L375.00 262.49 L376.00 263.12 L377.00 263.74 L378.00 264.37 L379.00 265.00 L380.00 265.62 L381.00 266.25 L382.00 266.87 L383.00 267.49 L384.00 268.12 L385.00 268.74 L386.00 269.36 L387.00 269.98 L388.00 270.60 L389.00 271.22 L390.00 271.84 L391.00 272.46 L392.00 273.08 L393.00 273.69 L394.00 274.31 L395.00 274.93 L396.00 275.54 L397.00 276.16 L398.00 276.77 L399.00 277.38 L400.00 278.00 L401.00 278.61 L402.00 279.22 L403.00 279.84 L404.00 280.45 L405.00 281.06 L406.00 281.67 L407.00 282.28 L408.00 282.89 L409.00 283.50 L410.00 284.11 L411.00 284.72 L412.00 285.32 L413.00 285.93 L414.00 286.54 L415.00 287.15 L416.00 287.75 L417.00 288.36 L418.00 288.97 L419.00 289.57 L420.00 290.18 L421.00 290.78 L422.00 291.39 L423.00 291.99 L424.00 292.60 L425.00 293.20 L426.00 293.81 L427.00 294.41 L428.00 295.02 L429.00 295.62 L430.00 296.22 L431.00 296.83 L432.00 297.43 L433.00 298.03 L434.00 298.64 L435.00 299.24 L436.00 299.84 L437.00 300.44 L438.00 301.05 L439.00 301.65 L440.00 302.25 L441.00 302.85 L442.00 303.46 L443.00 304.06 L444.00 304.66 L445.00 305.26 L446.00 305.87 L447.00 306.47 L448.00 307.07 L449.00 307.67 L450.00 308.28 L451.00 308.88 L452.00 309.48 L453.00 310.08 L454.00 310.69 L455.00 311.29 L456.00 311.89 L457.00 312.50 L458.00 313.10 L459.00 313.70 L460.00 314.31 L461.00 314.91 L462.00 315.51 L463.00 316.12 L464.00 316.72 L465.00 317.33 L466.00 317.93 L467.00 318.54 L468.00 319.14 L469.00 319.75 L470.00 320.35 L471.00 320.96 L472.00 321.56 L473.00 322.17 L474.00 322.78 L475.00 323.39 L476.00 323.99 L477.00 324.60 L478.00 325.21" fill="none" stroke="#ff0000" stroke-width="3.40" stroke-linejoin="round" stroke-dasharray="13.0 3.75" stroke-dashoffset="15.04"/>
<path d="M121.00 81.71 L122.00 81.77 L123.00 81.96 L124.00 82.46 L125.00 83.38 L126.00 84.71 L127.00 86.30 L128.00 88.00 L129.00 89.73 L130.00 91.47 L131.00 93.24 L132.00 95.03 L133.00 96.86 L134.00 98.73 L135.00 100.64 L136.00 102.59 L137.00 104.57 L138.00 106.58 L139.00 108.61 L140.00 110.66 L141.00 112.72 L142.00 114.80 L143.00 116.89 L144.00 118.97 L145.00 121.06 L146.00 123.13 L147.00 125.19 L148.00 127.24 L149.00 129.26 L150.00 131.25 L151.00 133.21 L152.00 135.14 L153.00 137.03 L154.00 138.89 L155.00 140.72 L156.00 142.52 L157.00 144.29 L158.00 146.02 L159.00 147.73 L160.00 149.41 L161.00 151.07 L162.00 152.70 L163.00 154.30 L164.00 155.88 L165.00 157.43 L166.00 158.96 L167.00 160.48 L168.00 161.97 L169.00 163.44 L170.00 164.89 L171.00 166.32 L172.00 167.74 L173.00 169.14 L174.00 170.52 L175.00 171.88 L176.00 173.24 L177.00 174.57 L178.00 175.89 L179.00 177.20 L180.00 178.49 L181.00 179.77 L182.00 181.03 L183.00 182.28 L184.00 183.52 L185.00 184.74 L186.00 185.95 L187.00 187.14 L188.00 188.33 L189.00 189.50 L190.00 190.66 L191.00 191.81 L192.00 192.94 L193.00 194.07 L194.00 195.18 L195.00 196.28 L196.00 197.38 L197.00 198.46 L198.00 199.53 L199.00 200.59 L200.00 201.64 L201.00 202.69 L202.00 203.72 L203.00 204.75 L204.00 205.76 L205.00 206.77 L206.00 207.77 L207.00 208.76 L208.00 209.75 L209.00 210.72 L210.00 211.69 L211.00 212.66 L212.00 213.61 L213.00 214.56 L214.00 215.51 L215.00 216.45 L216.00 217.38 L217.00 218.31 L218.00 219.23 L219.00 220.15 L220.00 221.06 L221.00 221.97 L222.00 222.87 L223.00 223.77 L224.00 224.67 L225.00 225.56 L226.00 226.45 L227.00 227.34 L228.00 228.22 L229.00 229.11 L230.00 229.99 L231.00 230.86 L232.00 231.74 L233.00 232.61 L234.00 233.48 L235.00 234.35 L236.00 235.21 L237.00 236.07 L238.00 236.93 L239.00 237.79 L240.00 238.65 L241.00 239.50 L242.00 240.35 L243.00 241.20 L244.00 242.04 L245.00 242.89 L246.00 243.73 L247.00 244.56 L248.00 245.40 L249.00 246.23 L250.00 247.07 L251.00 247.90 L252.00 248.72 L253.00 249.55 L254.00 250.37 L255.00 251.19 L256.00 252.01 L257.00 252.82 L258.00 253.64 L259.00 254.45 L260.00 255.26 L261.00 256.06 L262.00 256.87 L263.00 257.67 L264.00 258.47 L265.00 259.27 L266.00 260.06 L267.00 260.86 L268.00 261.65 L269.00 262.44 L270.00 263.22 L271.00 264.01 L272.00 264.79 L273.00 265.57 L274.00 266.35 L275.00 267.13 L276.00 267.90 L277.00 268.67 L278.00 269.44 L279.00 270.21 L280.00 270.98 L281.00 271.74 L282.00 272.50 L283.00 273.26 L284.00 274.02 L285.00 274.78 L286.00 275.53 L287.00 276.28 L288.00 277.03 L289.00 277.78 L290.00 278.52 L291.00 279.27 L292.00 280.01 L293.00 280.75 L294.00 281.48 L295.00 282.22 L296.00 282.95 L297.00 283.69 L298.00 284.42 L299.00 285.14 L300.00 285.87 L301.00 286.59 L302.00 287.32 L303.00 288.04 L304.00 288.75 L305.00 289.47 L306.00 290.19 L307.00 290.90 L308.00 291.61 L309.00 292.32 L310.00 293.02 L311.00 293.73 L312.00 294.43 L313.00 295.14 L314.00 295.84 L315.00 296.53 L316.00 297.23 L317.00 297.92 L318.00 298.62 L319.00 299.31 L320.00 300.00 L321.00 300.68 L322.00 301.37 L323.00 302.05 L324.00 302.74 L325.00 303.42 L326.00 304.10 L327.00 304.77 L328.00 305.45 L329.00 306.12 L330.00 306.79 L331.00 307.46 L332.00 308.13 L333.00 308.80 L334.00 309.46 L335.00 310.13 L336.00 310.79 L337.00 311.45 L338.00 312.11 L339.00 312.77 L340.00 313.42 L341.00 314.08 L342.00 314.73 L343.00 315.38 L344.00 316.03 L345.00 316.68 L346.00 317.32 L347.00 317.97 L348.00 318.61 L349.00 319.25 L350.00 319.89 L351.00 320.53 L352.00 321.17 L353.00 321.80 L354.00 322.44 L355.00 323.07 L356.00 323.70 L357.00 324.33" fill="none" stroke="#ff0000" stroke-width="3.40" stroke-linejoin="round" stroke-dasharray="5.6 4.9 11.8 4.9" stroke-dashoffset="17.12"/>
<text transform="translate(77.01,74.00) scale(1.2488,1.0000)" font-size="18.60" fill="#ff0000" font-style="italic">σ</text><text transform="translate(89.36,76.50) scale(0.9925,1.0000)" font-size="13.30" fill="#ff0000">QCD</text><text transform="translate(123.29,74.80) scale(1.3056,1.0000)" font-size="18.60" fill="#ff0000">=</text><text transform="translate(140.34,74.00) scale(1.0000,1.0000)" font-size="18.60" fill="#ff0000">4</text><text transform="translate(150.21,74.00) scale(0.9227,1.0000)" font-size="18.60" fill="#ff0000" font-style="italic">π</text><text transform="translate(160.10,74.00) scale(1.1417,1.0000)" font-size="18.60" fill="#ff0000">/</text><text transform="translate(165.82,74.00) scale(1.0141,1.0000)" font-size="18.60" fill="#ff0000">Λ</text><text transform="translate(179.02,66.50) scale(1.0000,1.0000)" font-size="13.30" fill="#ff0000">2</text><text transform="translate(178.43,77.00) scale(1.0369,1.0000)" font-size="13.30" fill="#ff0000">QCD</text>
</g>
<rect x="69.70" y="47.50" width="447.30" height="276.40" fill="none" stroke="#666666" stroke-width="1.05"/>
<path d="M78.30 323.90v-5.30 M78.30 47.50v5.30 M165.84 323.90v-5.30 M165.84 47.50v5.30 M217.05 323.90v-5.30 M217.05 47.50v5.30 M253.38 323.90v-5.30 M253.38 47.50v5.30 M281.56 323.90v-5.30 M281.56 47.50v5.30 M304.59 323.90v-5.30 M304.59 47.50v5.30 M324.05 323.90v-5.30 M324.05 47.50v5.30 M340.92 323.90v-5.30 M340.92 47.50v5.30 M355.79 323.90v-5.30 M355.79 47.50v5.30 M369.10 323.90v-5.30 M369.10 47.50v5.30 M456.64 323.90v-5.30 M456.64 47.50v5.30 M507.85 323.90v-5.30 M507.85 47.50v5.30 M69.70 310.32h5.30 M517.00 310.32h-5.30 M69.70 299.97h5.30 M517.00 299.97h-5.30 M69.70 291.94h5.30 M517.00 291.94h-5.30 M69.70 285.38h5.30 M517.00 285.38h-5.30 M69.70 279.83h5.30 M517.00 279.83h-5.30 M69.70 275.03h5.30 M517.00 275.03h-5.30 M69.70 270.79h5.30 M517.00 270.79h-5.30 M69.70 267.00h5.30 M517.00 267.00h-5.30 M69.70 242.06h5.30 M517.00 242.06h-5.30 M69.70 227.47h5.30 M517.00 227.47h-5.30 M69.70 217.12h5.30 M517.00 217.12h-5.30 M69.70 209.09h5.30 M517.00 209.09h-5.30 M69.70 202.53h5.30 M517.00 202.53h-5.30 M69.70 196.98h5.30 M517.00 196.98h-5.30 M69.70 192.18h5.30 M517.00 192.18h-5.30 M69.70 187.94h5.30 M517.00 187.94h-5.30 M69.70 184.15h5.30 M517.00 184.15h-5.30 M69.70 159.21h5.30 M517.00 159.21h-5.30 M69.70 144.62h5.30 M517.00 144.62h-5.30 M69.70 134.27h5.30 M517.00 134.27h-5.30 M69.70 126.24h5.30 M517.00 126.24h-5.30 M69.70 119.68h5.30 M517.00 119.68h-5.30 M69.70 114.13h5.30 M517.00 114.13h-5.30 M69.70 109.33h5.30 M517.00 109.33h-5.30 M69.70 105.09h5.30 M517.00 105.09h-5.30 M69.70 101.30h5.30 M517.00 101.30h-5.30 M69.70 76.36h5.30 M517.00 76.36h-5.30 M69.70 61.77h5.30 M517.00 61.77h-5.30 M69.70 51.42h5.30 M517.00 51.42h-5.30" stroke="#666666" stroke-width="0.9" fill="none"/>
<text x="78.30" y="345.00" font-size="18.60" fill="#000" text-anchor="middle">0.01</text>
<text x="217.05" y="345.00" font-size="18.60" fill="#000" text-anchor="middle">0.03</text>
<text x="369.10" y="345.00" font-size="18.60" fill="#000" text-anchor="middle">0.1</text>
<text x="507.85" y="345.00" font-size="18.60" fill="#000" text-anchor="middle">0.3</text>
<text transform="translate(35.11,66.37) scale(0.9999,1.0000)" font-size="18.60" fill="#000">300</text>
<text transform="translate(35.70,105.90) scale(0.9782,1.0000)" font-size="18.60" fill="#000">100</text>
<text x="62.60" y="149.22" font-size="18.60" fill="#000" text-anchor="end">30</text>
<text x="62.60" y="188.75" font-size="18.60" fill="#000" text-anchor="end">10</text>
<text x="62.60" y="232.07" font-size="18.60" fill="#000" text-anchor="end">3</text>
<text x="62.60" y="271.60" font-size="18.60" fill="#000" text-anchor="end">1</text>
<text x="62.60" y="314.92" font-size="18.60" fill="#000" text-anchor="end">0.3</text>
<text x="293.50" y="375.20" font-size="18.80" fill="#000" text-anchor="middle">Temperature in GeV</text>
<g transform="translate(17.9,292.6) rotate(-90)"><text transform="translate(-0.34,0.00) scale(0.9908,1.0000)" font-size="19.00" fill="#000">Fall cross section in 1/GeV</text><text transform="translate(204.61,-7.40) scale(1.0000,1.0000)" font-size="13.50" fill="#000">2</text></g>
<text transform="translate(222.56,16.40) scale(1.0000,1.0000)" font-size="22.00" fill="#000" font-style="italic">M</text>
<text transform="translate(239.89,19.70) scale(1.0000,1.0000)" font-size="16.50" fill="#000" font-style="italic">Q</text>
<text transform="translate(258.68,18.10) scale(1.2015,1.1000)" font-size="22.00" fill="#000">=</text>
<text transform="translate(279.95,16.10) scale(1.0110,1.0000)" font-size="22.00" fill="#000">12.5</text>
<text transform="translate(326.22,16.10) scale(0.9572,1.0000)" font-size="22.00" fill="#000">TeV</text>
<text transform="translate(357.29,130.40) scale(1.1032,1.0000)" font-size="18.60" fill="#000" font-style="italic">α</text><text transform="translate(368.83,131.90) scale(1.0076,1.0000)" font-size="13.30" fill="#000">eff</text><text transform="translate(389.15,133.20) scale(1.2363,0.9000)" font-size="18.60" fill="#000">=</text><text transform="translate(405.71,131.40) scale(1.0000,1.0000)" font-size="18.60" fill="#000">3</text>
<text transform="translate(77.29,257.80) scale(1.1032,1.0000)" font-size="18.60" fill="#000" font-style="italic">α</text><text transform="translate(88.83,259.30) scale(1.0076,1.0000)" font-size="13.30" fill="#000">eff</text><text transform="translate(109.15,260.60) scale(1.2363,0.9000)" font-size="18.60" fill="#000">=</text><text transform="translate(125.89,257.80) scale(1.0000,1.0000)" font-size="18.60" fill="#000">0.3</text>
<g transform="translate(239.2,221.4) rotate(37.5)"><text transform="translate(-0.61,0.00) scale(1.1032,1.0000)" font-size="18.60" fill="#000" font-style="italic">α</text><text transform="translate(10.93,1.50) scale(1.0076,1.0000)" font-size="13.30" fill="#000">eff</text><text transform="translate(31.25,2.80) scale(1.2363,0.9000)" font-size="18.60" fill="#000">=</text><text transform="translate(47.07,0.00) scale(1.0000,1.0000)" font-size="18.60" fill="#000">1</text></g>
<path d="M386.80 133.50L360.28 247.68" stroke="#000" stroke-width="1.3" fill="none"/><path d="M372.68 194.30L372.16 179.29L375.62 181.64L379.76 181.06Z" fill="#000"/><path d="M365.24 226.30L364.73 211.29L368.19 213.64L372.32 213.06Z" fill="#000"/><path d="M359.60 250.60L359.08 235.59L362.54 237.94L366.68 237.36Z" fill="#000"/>
</svg></body></html>
